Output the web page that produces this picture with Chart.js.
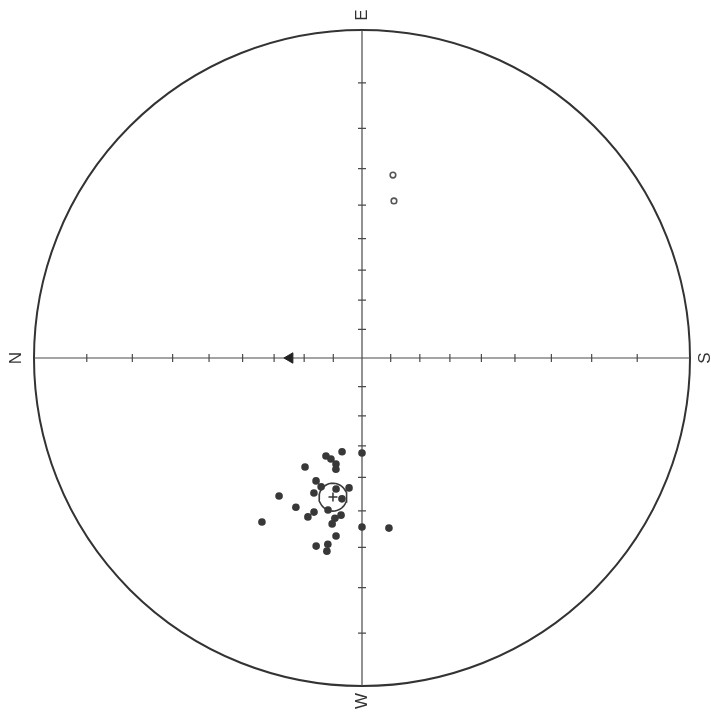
<!DOCTYPE html>
<html>
<head>
<meta charset="utf-8">
<title>Stereonet</title>
<script src="https://cdn.jsdelivr.net/npm/chart.js@4.4.0/dist/chart.umd.min.js"></script>
<style>
  body { margin: 0; background: #fff; }
  canvas { display: block; }
</style>
</head>
<body>
<canvas id="stereo" width="711" height="725"></canvas>
<script>
// lower hemisphere directions (filled dots), declination / inclination in degrees
var lowerDec = [290.2, 287.1, 283.8, 283.2, 282.0, 270.0, 297.6, 290.5, 287.6, 275.7,
                281.2, 289.6, 278.1, 301.0, 293.9, 287.3, 288.8, 282.6, 279.6, 277.6,
                280.2, 301.4, 270.0, 261.0, 278.3, 283.7, 280.4, 280.3];
var lowerInc = [54.7, 54.3, 53.2, 51.6, 57.4, 57.7, 48.9, 46.4, 45.2, 46.6,
                45.7, 42.8, 43.1, 37.7, 37.1, 37.6, 35.8, 39.2, 37.3, 38.4,
                35.6, 29.3, 35.5, 34.6, 32.5, 28.9, 30.0, 28.2];

// upper hemisphere directions (open circles)
var upperDec = [99.6, 101.5];
var upperInc = [-31.0, -37.9];

// mean direction with its alpha95 cone
var meanDec = [281.8];
var meanInc = [43.2];
var alpha95 = [4.1];

// reference direction (arrow on the N axis)
var refDec = [0];
var refInc = [65.2];

// ticks every 10 degrees of inclination along the four half axes
var tickInc = [10, 20, 30, 40, 50, 60, 70, 80];
var axisDec = [0, 90, 180, 270];
var axisLabels = ['N', 'E', 'S', 'W'];

(function(){

    'use strict'

    var rad = Math.PI / 180;

    var net = {

        // stereographic projection, N to the left and E at the top
        project : function(dec, inc) {
            var r = Math.tan((90 - Math.abs(inc)) / 2 * rad);
            return { x: -r * Math.cos(dec * rad), y: r * Math.sin(dec * rad) };
        } ,

        points : function(decs, incs) {
            var out = [];
            for(var i = 0; i < decs.length; i++) {
                out.push(net.project(decs[i], incs[i]));
            }
            return out;
        } ,

        // small circle of radius a around (dec, inc)
        smallCircle : function(dec, inc, a) {
            var D = dec * rad, I = inc * rad, A = a * rad;
            var m = [Math.cos(I) * Math.cos(D), Math.cos(I) * Math.sin(D), Math.sin(I)];
            var u = [-Math.sin(I) * Math.cos(D), -Math.sin(I) * Math.sin(D), Math.cos(I)];
            var v = [-Math.sin(D), Math.cos(D), 0];
            var out = [];
            for(var t = 0; t <= 360; t += 10) {
                var c = Math.cos(t * rad) * Math.sin(A), s = Math.sin(t * rad) * Math.sin(A);
                var p = [];
                for(var k = 0; k < 3; k++) {
                    p.push(m[k] * Math.cos(A) + u[k] * c + v[k] * s);
                }
                var d = Math.atan2(p[1], p[0]) / rad;
                var i2 = Math.asin(p[2]) / rad;
                out.push(net.project(d, i2));
            }
            return out;
        }
    };

    // primitive circle, axes, ticks and N E S W labels
    var netPlugin = {
        id: 'net',
        beforeDatasetsDraw : function(chart) {
            var ctx = chart.ctx;
            var xs = chart.scales.x, ys = chart.scales.y;
            var cx = xs.getPixelForValue(0), cy = ys.getPixelForValue(0);
            var R = xs.getPixelForValue(1) - cx;

            ctx.save();
            ctx.strokeStyle = '#333';
            ctx.lineWidth = 2;
            ctx.beginPath();
            ctx.arc(cx, cy, R, 0, Math.PI * 2);
            ctx.stroke();

            ctx.strokeStyle = '#4a4a4a';
            ctx.lineWidth = 1.2;
            ctx.beginPath();
            ctx.moveTo(xs.getPixelForValue(-1), cy);
            ctx.lineTo(xs.getPixelForValue(1), cy);
            ctx.moveTo(cx, ys.getPixelForValue(1));
            ctx.lineTo(cx, ys.getPixelForValue(-1));
            ctx.stroke();

            ctx.beginPath();
            for(var a = 0; a < axisDec.length; a++) {
                for(var t = 0; t < tickInc.length; t++) {
                    var p = net.project(axisDec[a], tickInc[t]);
                    var px = xs.getPixelForValue(p.x), py = ys.getPixelForValue(p.y);
                    if(axisDec[a] % 180 === 0) {
                        ctx.moveTo(px, py - 4);
                        ctx.lineTo(px, py + 4);
                    } else {
                        ctx.moveTo(px - 4, py);
                        ctx.lineTo(px + 4, py);
                    }
                }
            }
            ctx.stroke();

            ctx.fillStyle = '#333';
            ctx.font = '17px "Liberation Sans", Arial, sans-serif';
            ctx.textAlign = 'center';
            ctx.textBaseline = 'middle';
            for(var j = 0; j < axisDec.length; j++) {
                var e = net.project(axisDec[j], 0);
                var off = axisDec[j] === 0 ? 18 : 15;
                var lx = cx + e.x * (R + off), ly = cy - e.y * (R + off);
                ctx.save();
                ctx.translate(lx, ly);
                ctx.rotate(-Math.PI / 2);
                ctx.fillText(axisLabels[j], 0, 0);
                ctx.restore();
            }
            ctx.restore();
        }
    };

    var ctx = document.getElementById('stereo').getContext('2d');

    new Chart(ctx, {
        type: 'scatter',
        data: {
            datasets: [{
                data: net.points(lowerDec, lowerInc),
                pointRadius: 3.8,
                backgroundColor: '#383838',
                borderWidth: 0
            },
            {
                data: net.points(upperDec, upperInc),
                pointRadius: 2.8,
                backgroundColor: '#fff',
                borderColor: '#555',
                borderWidth: 1.6
            },
            {
                data: net.smallCircle(meanDec[0], meanInc[0], alpha95[0]),
                showLine: true,
                pointRadius: 0,
                borderColor: '#3a3a3a',
                borderWidth: 1.6,
                fill: false
            },
            {
                data: net.points(meanDec, meanInc),
                pointStyle: 'cross',
                pointRadius: 4.5,
                borderColor: '#333',
                borderWidth: 1.5
            },
            {
                data: net.points(refDec, refInc),
                pointStyle: 'triangle',
                rotation: -90,
                pointRadius: 6,
                backgroundColor: '#222',
                borderColor: '#222',
                borderWidth: 1
            }]
        },
        options: {
            responsive: false,
            animation: false,
            layout: {
                padding: { left: 34, right: 21, top: 30, bottom: 39 }
            },
            scales: {
                x: { type: 'linear', min: -1, max: 1, display: false },
                y: { type: 'linear', min: -1, max: 1, display: false }
            },
            plugins: {
                legend: { display: false },
                tooltip: { enabled: false }
            }
        },
        plugins: [netPlugin]
    });

})();
</script>
</body>
</html>
